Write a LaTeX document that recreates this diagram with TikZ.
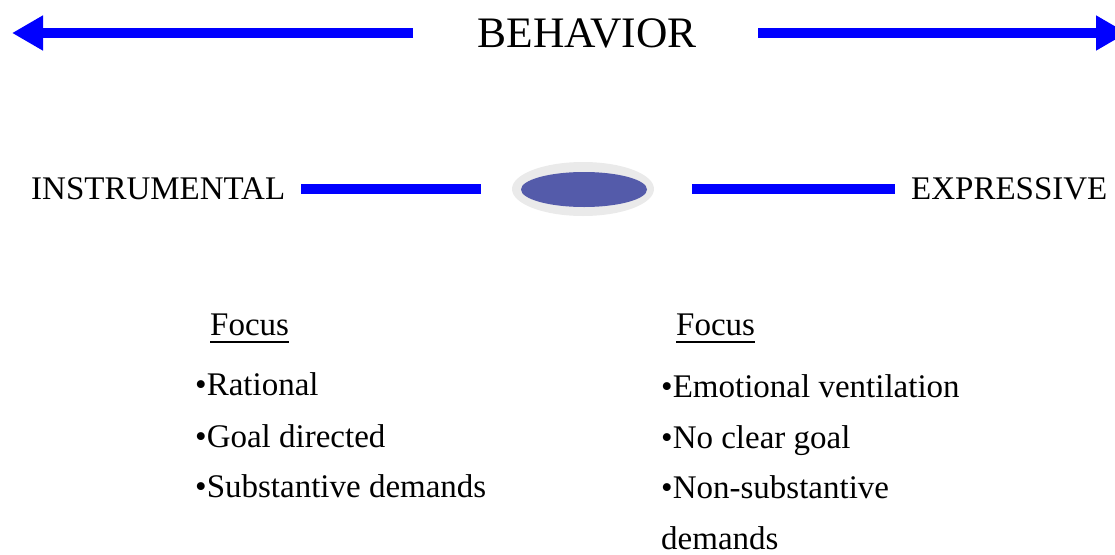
\documentclass[tikz,border=0pt]{standalone}
\usepackage{fontspec}
\setmainfont{Liberation Serif}
\usetikzlibrary{arrows.meta,shapes.geometric}
\definecolor{barblue}{RGB}{0,0,255}
\definecolor{ovalfill}{RGB}{84,91,170}
\definecolor{ovalring}{RGB}{234,234,234}
\begin{document}
\begin{tikzpicture}[x=1pt,y=-1pt,
  bar/.style={draw=barblue,line width=10pt},
  arr/.style={bar,-{Triangle[length=31pt,width=33pt]}},
  big/.style={font=\fontsize{43.5}{50}\selectfont,inner sep=0pt,anchor=base},
  lbl/.style={font=\fontsize{33}{38}\selectfont,inner sep=0pt,anchor=base west},
  txt/.style={font=\fontsize{33}{38}\selectfont,inner sep=0pt,anchor=base west},
  uline/.style={line width=1.8pt}]
\useasboundingbox (0,0) rectangle (1115,554);
% top
\node[big] (beh) at (587,47) {BEHAVIOR};
\coordinate (la) at (413,33);
\coordinate (lt) at (12,33);
\coordinate (ra) at (758,33);
\coordinate (rt) at (1127,33);
\draw[arr] (la) -- (lt);
\draw[arr] (ra) -- (rt);
% middle
\node[lbl] (ins) at (31,199.5) {INSTRUMENTAL};
\node[lbl] (exp) at (911,199.5) {EXPRESSIVE};
\fill[ovalring] (583,189) ellipse [x radius=71, y radius=27];
\node[ellipse,fill=ovalfill,minimum width=126pt,minimum height=35pt,inner sep=0pt,draw=none] (ov) at (584,189.5) {};
\coordinate (l1) at (301,189);
\coordinate (l2) at (481,189);
\coordinate (r1) at (692,189);
\coordinate (r2) at (895,189);
\draw[bar] (l1) -- (l2);
\draw[bar] (r1) -- (r2);
% left column
\node[txt] (f1) at (210,335) {Focus};
\draw[uline] ([yshift=-7pt]f1.base west) -- ([yshift=-7pt]f1.base east);
\node[txt] (a1) at (195,395) {•Rational};
\node[txt] (a2) at (195,447) {•Goal directed};
\node[txt] (a3) at (195,497) {•Substantive demands};
% right column
\node[txt] (f2) at (676,335) {Focus};
\draw[uline] ([yshift=-7pt]f2.base west) -- ([yshift=-7pt]f2.base east);
\node[txt] (b1) at (661,397) {•Emotional ventilation};
\node[txt] (b2) at (661,448) {•No clear goal};
\node[txt] (b3) at (661,498) {•Non-substantive};
\node[txt] (b4) at (661,549) {demands};
\end{tikzpicture}
\end{document}
